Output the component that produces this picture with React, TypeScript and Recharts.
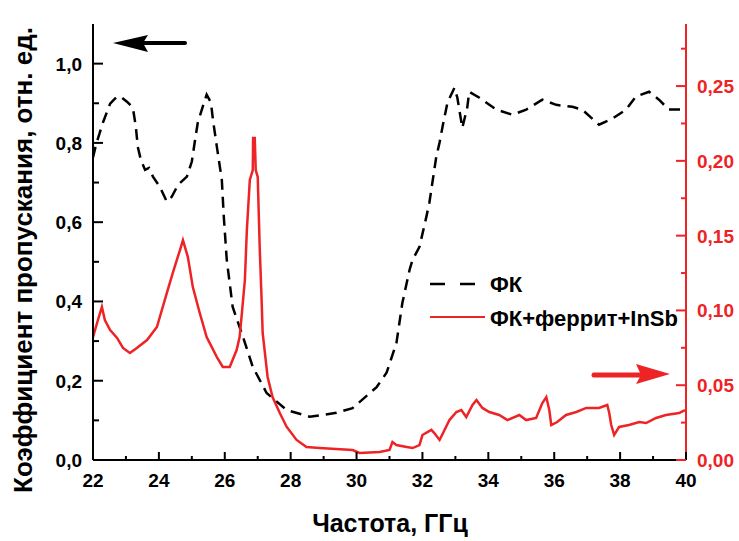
import React from "react";
import { LineChart, Line, XAxis, YAxis, Legend } from "recharts";

// ФК (left axis), dashed black
const fkFreq = [22.0, 22.09, 22.3, 22.52, 22.73, 22.88, 23.03, 23.21, 23.3, 23.36, 23.45, 23.58, 23.7, 23.82, 24.03, 24.24, 24.39, 24.58, 24.85, 25.0, 25.09, 25.18, 25.33, 25.45, 25.58, 25.64, 25.76, 25.91, 25.97, 26.06, 26.24, 26.55, 26.85, 27.27, 27.88, 28.58, 29.39, 29.88, 30.61, 30.91, 31.21, 31.39, 31.61, 31.7, 31.91, 32.12, 32.21, 32.3, 32.42, 32.52, 32.61, 32.76, 32.97, 33.06, 33.21, 33.36, 33.42, 33.73, 34.24, 34.73, 35.15, 35.64, 36.06, 36.55, 36.85, 37.36, 37.76, 38.18, 38.48, 38.88, 39.18, 39.48, 39.88, 39.97];
const fkVal = [0.763, 0.795, 0.851, 0.899, 0.917, 0.914, 0.904, 0.889, 0.841, 0.79, 0.758, 0.732, 0.737, 0.715, 0.689, 0.652, 0.664, 0.694, 0.715, 0.753, 0.803, 0.851, 0.891, 0.922, 0.902, 0.859, 0.79, 0.707, 0.614, 0.505, 0.386, 0.311, 0.235, 0.169, 0.126, 0.109, 0.119, 0.131, 0.184, 0.22, 0.295, 0.396, 0.48, 0.505, 0.538, 0.614, 0.649, 0.699, 0.765, 0.801, 0.841, 0.902, 0.939, 0.914, 0.838, 0.889, 0.929, 0.914, 0.884, 0.871, 0.884, 0.909, 0.896, 0.891, 0.884, 0.846, 0.861, 0.884, 0.917, 0.929, 0.909, 0.884, 0.884, 0.879];

// ФК+феррит+InSb (right axis), red
const mixFreq = [22.0, 22.15, 22.27, 22.36, 22.52, 22.73, 22.91, 23.12, 23.33, 23.64, 23.94, 24.24, 24.42, 24.64, 24.73, 24.88, 25.03, 25.24, 25.45, 25.76, 25.94, 26.15, 26.36, 26.45, 26.52, 26.61, 26.67, 26.76, 26.85, 26.86, 26.91, 26.94, 27.0, 27.06, 27.12, 27.15, 27.3, 27.45, 27.67, 27.88, 28.18, 28.48, 28.88, 29.88, 30.09, 30.7, 31.0, 31.09, 31.21, 31.52, 31.7, 31.91, 32.0, 32.27, 32.36, 32.52, 32.67, 32.82, 33.03, 33.18, 33.33, 33.52, 33.64, 33.82, 34.03, 34.33, 34.58, 34.94, 35.15, 35.45, 35.64, 35.76, 35.85, 35.91, 36.09, 36.36, 36.67, 36.97, 37.36, 37.61, 37.67, 37.73, 37.82, 37.97, 38.27, 38.58, 38.79, 39.09, 39.39, 39.79, 39.97];
const mixVal = [0.0822, 0.0936, 0.1023, 0.0936, 0.0869, 0.0816, 0.0749, 0.0715, 0.0749, 0.0802, 0.0889, 0.1116, 0.125, 0.1404, 0.147, 0.1357, 0.1156, 0.0983, 0.0822, 0.0688, 0.0622, 0.0622, 0.0735, 0.0822, 0.0983, 0.1203, 0.1537, 0.1872, 0.1939, 0.2152, 0.2152, 0.1939, 0.1892, 0.1424, 0.1056, 0.0849, 0.0555, 0.0421, 0.0314, 0.0221, 0.0134, 0.0087, 0.008, 0.0067, 0.0047, 0.0053, 0.0067, 0.012, 0.01, 0.0087, 0.008, 0.01, 0.0167, 0.0201, 0.018, 0.0134, 0.0201, 0.0267, 0.0321, 0.0334, 0.0287, 0.0368, 0.0401, 0.0348, 0.0321, 0.0301, 0.0267, 0.0301, 0.0267, 0.0281, 0.0381, 0.0421, 0.0334, 0.0234, 0.0254, 0.0301, 0.0321, 0.0348, 0.0348, 0.0368, 0.0314, 0.0234, 0.0167, 0.0221, 0.0234, 0.0254, 0.0247, 0.0281, 0.0301, 0.0314, 0.0334];

const xTicks = [22, 23, 24, 25, 26, 27, 28, 29, 30, 31, 32, 33, 34, 35, 36, 37, 38, 39, 40];
const leftTicks = [0, 0.1, 0.2, 0.3, 0.4, 0.5, 0.6, 0.7, 0.8, 0.9, 1.0];
const rightTicks = [0, 0.025, 0.05, 0.075, 0.1, 0.125, 0.15, 0.175, 0.2, 0.225, 0.25, 0.275];

const seriesNames = ["ФК", "ФК+феррит+InSb"];
const xTitle = "Частота, ГГц";
const yTitle = "Коэффициент пропускания, отн. ед.";

const fkData = fkFreq.map((f, i) => ({ f, v: fkVal[i] }));
const mixData = mixFreq.map((f, i) => ({ f, v: mixVal[i] }));

const RED = "#ee2326";
const FONT = "'Liberation Sans', Arial, sans-serif";

const BottomTick = (props: any) => {
  const { x, y, payload } = props;
  const v = payload.value;
  const major = Math.round(v) % 2 === 0;
  return (
    <g>
      <line x1={x} y1={y} x2={x} y2={y - (major ? 8 : 4)} stroke="#000" strokeWidth={2} />
      {major && (
        <text x={x} y={y + 27} textAnchor="middle" fontFamily={FONT} fontWeight="bold" fontSize={19} fill="#000">
          {v}
        </text>
      )}
    </g>
  );
};

const TopTick = (props: any) => {
  const { x, y } = props;
  return <line x1={x} y1={y} x2={x} y2={y + 4} stroke="#000" strokeWidth={2} />;
};

const LeftTick = (props: any) => {
  const { x, y, payload } = props;
  const v = payload.value;
  const major = Math.round(v * 10) % 2 === 0;
  return (
    <g>
      <line x1={x} y1={y} x2={x + (major ? 10 : 6)} y2={y} stroke="#000" strokeWidth={2} />
      {major && (
        <text x={x - 11} y={y + 7} textAnchor="end" fontFamily={FONT} fontWeight="bold" fontSize={19} fill="#000">
          {v.toFixed(1).replace(".", ",")}
        </text>
      )}
    </g>
  );
};

const RightTick = (props: any) => {
  const { x, y, payload } = props;
  const v = payload.value;
  const major = Math.round(v * 1000) % 50 === 0;
  return (
    <g>
      <line x1={x} y1={y} x2={x - (major ? 10 : 5)} y2={y} stroke={RED} strokeWidth={2} />
      {major && (
        <text x={x + 11} y={y + 7} textAnchor="start" fontFamily={FONT} fontWeight="bold" fontSize={19} fill={RED}>
          {v.toFixed(2).replace(".", ",")}
        </text>
      )}
    </g>
  );
};

const LegendContent = () => (
  <svg width={270} height={60} style={{ overflow: "visible" }}>
    <line x1={5} y1={14} x2={50} y2={14} stroke="#000" strokeWidth={2.5} strokeDasharray="15 15" />
    <text x={65} y={22} fontFamily={FONT} fontWeight="bold" fontSize={22} fill="#000">{seriesNames[0]}</text>
    <line x1={5} y1={47} x2={60} y2={47} stroke={RED} strokeWidth={2} />
    <text x={65} y={56} fontFamily={FONT} fontWeight="bold" fontSize={22} fill="#000">{seriesNames[1]}</text>
  </svg>
);

export default function App() {
  return (
    <div style={{ position: "absolute", left: 0, top: 0, width: 739, height: 541, background: "#fff" }}>
      <LineChart width={739} height={541} margin={{ top: 24, right: 8, bottom: 51, left: 33 }}>
        <XAxis
          xAxisId="bottom"
          dataKey="f"
          type="number"
          domain={[22, 40]}
          ticks={xTicks}
          interval={0}
          allowDataOverflow
          height={30}
          tickSize={0}
          tickMargin={0}
          tickLine={false}
          axisLine={{ stroke: "#000", strokeWidth: 2 }}
          tick={BottomTick}
        />
        <XAxis
          xAxisId="top"
          orientation="top"
          dataKey="f"
          type="number"
          domain={[22, 40]}
          ticks={xTicks}
          interval={0}
          allowDataOverflow
          height={0}
          tickSize={0}
          tickMargin={0}
          tickLine={false}
          axisLine={{ stroke: "#000", strokeWidth: 2 }}
          tick={TopTick}
        />
        <YAxis
          yAxisId="left"
          type="number"
          domain={[0, 1.1]}
          ticks={leftTicks}
          interval={0}
          allowDataOverflow
          width={60}
          tickSize={0}
          tickMargin={0}
          tickLine={false}
          axisLine={{ stroke: "#000", strokeWidth: 2 }}
          tick={LeftTick}
        />
        <YAxis
          yAxisId="right"
          orientation="right"
          type="number"
          domain={[0, 0.2915]}
          ticks={rightTicks}
          interval={0}
          allowDataOverflow
          width={45}
          tickSize={0}
          tickMargin={0}
          tickLine={false}
          axisLine={{ stroke: RED, strokeWidth: 2 }}
          tick={RightTick}
        />
        <Legend
          layout="horizontal"
          verticalAlign="middle"
          align="center"
          content={LegendContent}
          wrapperStyle={{ position: "absolute", left: 425, top: 270, width: 270, height: 60 }}
        />
        <Line
          xAxisId="bottom"
          yAxisId="left"
          data={fkData}
          dataKey="v"
          name={seriesNames[0]}
          type="linear"
          stroke="#000"
          strokeWidth={2.5}
          strokeDasharray="11 7"
          dot={false}
          isAnimationActive={false}
        />
        <Line
          xAxisId="bottom"
          yAxisId="right"
          data={mixData}
          dataKey="v"
          name={seriesNames[1]}
          type="linear"
          stroke={RED}
          strokeWidth={2.5}
          dot={false}
          isAnimationActive={false}
        />
      </LineChart>
      <svg
        width={739}
        height={541}
        style={{ position: "absolute", left: 0, top: 0, pointerEvents: "none" }}
      >
        <line x1={140} y1={43} x2={185} y2={43} stroke="#000" strokeWidth={4} strokeLinecap="round" />
        <polygon points="113,43 148,35 143,43 148,52" fill="#000" />
        <line x1={594} y1={375} x2={642} y2={375} stroke={RED} strokeWidth={5} strokeLinecap="round" />
        <polygon points="670,374 636,364 641,375 636,384" fill={RED} />
        <text x={390} y={532} textAnchor="middle" fontFamily={FONT} fontWeight="bold" fontSize={25} fill="#000">
          {xTitle}
        </text>
        <text
          x={32}
          y={260}
          transform="rotate(-90 32 260)"
          textAnchor="middle"
          fontFamily={FONT}
          fontWeight="bold"
          fontSize={26}
          fill="#000"
        >
          {yTitle}
        </text>
      </svg>
    </div>
  );
}
